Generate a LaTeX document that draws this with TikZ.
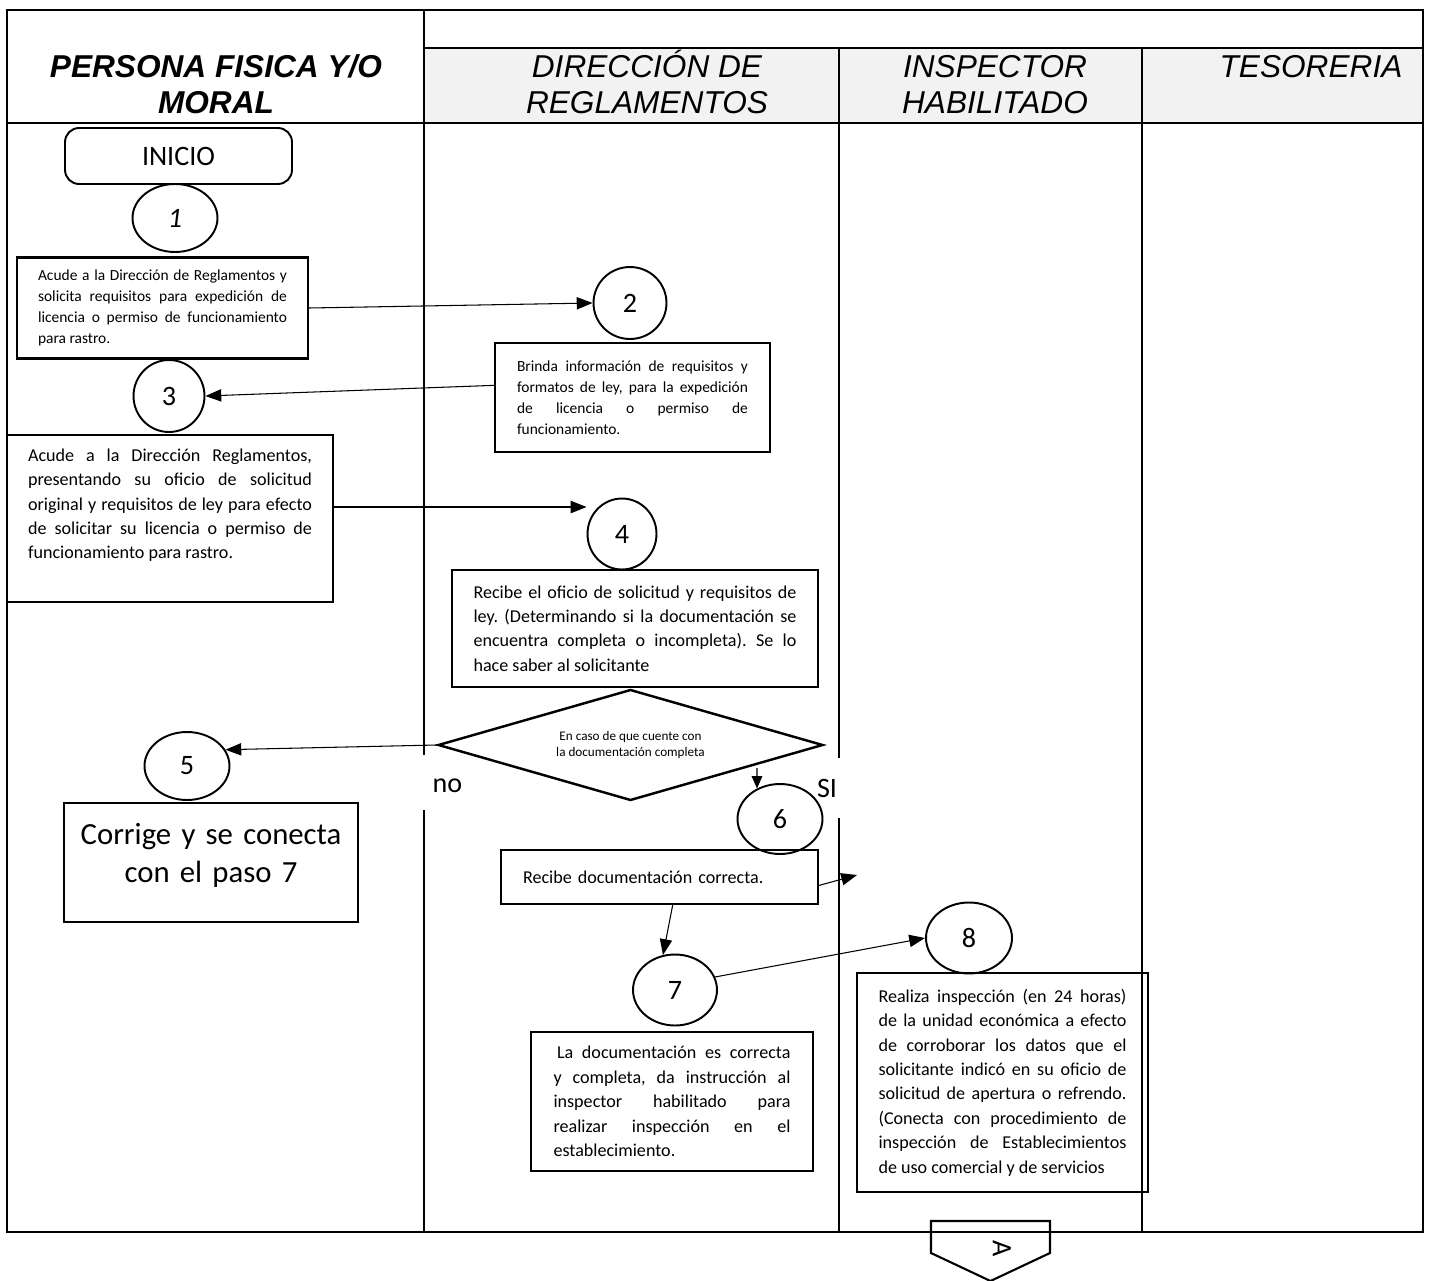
\documentclass[tikz,border=0pt]{standalone}
\usepackage{fontspec}
\setmainfont{Carlito}
\newfontfamily\headfont{Liberation Sans}
\usepackage{tikz}
\usetikzlibrary{shapes.geometric}
\usetikzlibrary{arrows.meta}
\frenchspacing

\begin{document}
\begin{tikzpicture}[x=0.02cm,y=-0.02cm]
\tikzstyle{every node}=[inner sep=0pt];
\tikzstyle{marco}=[line width=1.4pt];
\tikzstyle{paso}=[draw,shape=ellipse,line width=1.1pt,font=\fontsize{16}{19}\selectfont];
\tikzstyle{caja}=[draw,shape=rectangle,line width=1.4pt,align=justify];
\tikzstyle{chica}=[font=\fontsize{8.8}{11.9}\selectfont];
\tikzstyle{normal}=[font=\fontsize{10.3}{13.9}\selectfont];
\tikzstyle{titulo}=[align=center,font=\headfont\fontsize{18}{20.5}\selectfont\itshape];
\tikzstyle{flecha}=[line width=0.6pt,-{Triangle[length=9pt,width=7pt]}];
\useasboundingbox (0,0) rectangle (1431,1281);
% encabezado
\fill[black!5] (424,48) rectangle (1423,123);
\draw[marco] (7,10) rectangle (1423,1232);
\draw[marco] (424,48)--(1423,48) (7,123)--(1423,123);
\draw[marco] (424,10)--(424,755) (424,810)--(424,1232);
\draw[marco] (839,48)--(839,758) (839,818)--(839,1232);
\draw[marco] (1142,48)--(1142,1232);
\node[titulo,font=\headfont\fontsize{18}{20.5}\selectfont\bfseries\itshape](hpersona) at (216,84) {PERSONA FISICA Y/O\\MORAL};
\node[titulo](hdireccion) at (647,82) {DIRECCIÓN DE\\REGLAMENTOS};
\node[titulo](hinspector) at (995,85) {INSPECTOR\\HABILITADO};
\node[titulo](htesoreria) at (1311,67) {TESORERIA};
% pasos
\node[draw,rounded corners=8pt,line width=1.1pt,minimum width=4.54cm,minimum height=1.12cm,font=\fontsize{16}{19}\selectfont](inicio) at (178.5,156) {INICIO};
\node[paso,minimum width=1.7cm,minimum height=1.36cm](p1) at (175,218) {\itshape 1};
\node[caja,chica,text width=4.98cm,minimum width=5.82cm,minimum height=2.02cm](b1) at (162.5,308) {Acude a la Dirección de Reglamentos y\linebreak solicita requisitos para expedición de\linebreak licencia o permiso de funcionamiento\linebreak para rastro.};
\node[paso,minimum width=1.46cm,minimum height=1.44cm](p2) at (630,303) {2};
\node[caja,chica,text width=4.62cm,minimum width=5.5cm,minimum height=2.18cm](b2) at (632.5,397.5) {Brinda información de requisitos y\linebreak formatos de ley, para la expedición\linebreak de licencia o permiso de\linebreak funcionamiento.};
\node[paso,minimum width=1.42cm,minimum height=1.44cm](p3) at (169,396) {3};
\node[caja,normal,text width=5.68cm,minimum width=6.52cm,minimum height=3.34cm](b3) at (170,518.5) {Acude a la Dirección Reglamentos,\linebreak presentando su oficio de solicitud\linebreak original y requisitos de ley para efecto\linebreak de solicitar su licencia o permiso de\linebreak funcionamiento para rastro.\par\kern 15pt};
\node[paso,minimum width=1.38cm,minimum height=1.42cm](p4) at (622,534) {4};
\node[caja,normal,text width=6.46cm,minimum width=7.32cm,minimum height=2.34cm](b4) at (635,628.5) {Recibe el oficio de solicitud y requisitos de\linebreak ley. (Determinando si la documentación se\linebreak encuentra completa o incompleta). Se lo\linebreak hace saber al solicitante};
\node[draw,shape=diamond,aspect=3.47,line width=1.4pt,minimum width=7.7cm,minimum height=2.22cm,align=center,font=\fontsize{7.5}{9.4}\selectfont](dia) at (630.5,745) {En caso de que cuente con\\la documentación completa};
\node[paso,minimum width=1.7cm,minimum height=1.36cm](p5) at (187,766) {5};
\node[caja,align=center,text width=5.6cm,minimum width=5.88cm,minimum height=2.38cm,font=\fontsize{17.5}{21.5}\selectfont](b5) at (211,862.5) {Corrige y se conecta\\con el paso 7\par\kern 8pt};
\node[font=\fontsize{16}{19}\selectfont](no) at (447.5,786) {no};
\node[font=\fontsize{16}{19}\selectfont](si) at (827,788) {SI};
\node[paso,minimum width=1.7cm,minimum height=1.4cm](p6) at (780,819) {6};
\node[caja,normal,align=left,text width=5.46cm,minimum width=6.34cm,minimum height=1.08cm](b6) at (659.5,877) {Recibe documentación correcta.};
\node[paso,minimum width=1.68cm,minimum height=1.42cm](p7) at (675,990) {7};
\node[caja,normal,text width=4.74cm,minimum width=5.64cm,minimum height=2.78cm](b7) at (672,1101.5) {\hspace*{2pt}La documentación es correcta\linebreak y completa, da instrucción al\linebreak inspector habilitado para\linebreak realizar inspección en el\linebreak establecimiento.};
\node[paso,minimum width=1.72cm,minimum height=1.42cm](p8) at (969,938) {8};
\node[caja,normal,text width=4.96cm,minimum width=5.82cm,minimum height=4.38cm](b8) at (1002.5,1082.5) {Realiza inspección (en 24 horas)\linebreak de la unidad económica a efecto\linebreak de corroborar los datos que el\linebreak solicitante indicó en su oficio de\linebreak solicitud de apertura o refrendo.\linebreak (Conecta con procedimiento de\linebreak inspección de Establecimientos\linebreak de uso comercial y de servicios};
% conector de fin de pagina
\draw[line width=1.2pt] (931,1221)--(1050,1221)--(1050,1253)--(990.5,1281)--(931,1253)--cycle;
\node[font=\fontsize{16}{19}\selectfont](conA) at (1002,1249) {\rotatebox{-90}{A}};
% flechas
\coordinate(sialto) at (757,768);
\coordinate(finb6) at (857,875);
\draw[flecha](b1.east)--(p2.west);
\draw[flecha](b2.175)--(p3.east);
\draw[flecha](b3.4)--(b3.4 -| p4.west);
\draw[flecha](dia.west)--(p5.23);
\draw[flecha,-{Triangle[length=7pt,width=6pt]}](sialto)--(p6.127);
\draw[flecha](b6.-3)--(finb6);
\draw[flecha](b6.-65)--(p7.109);
\draw[flecha](p7.18)--(p8.west);
\end{tikzpicture}
\end{document}
